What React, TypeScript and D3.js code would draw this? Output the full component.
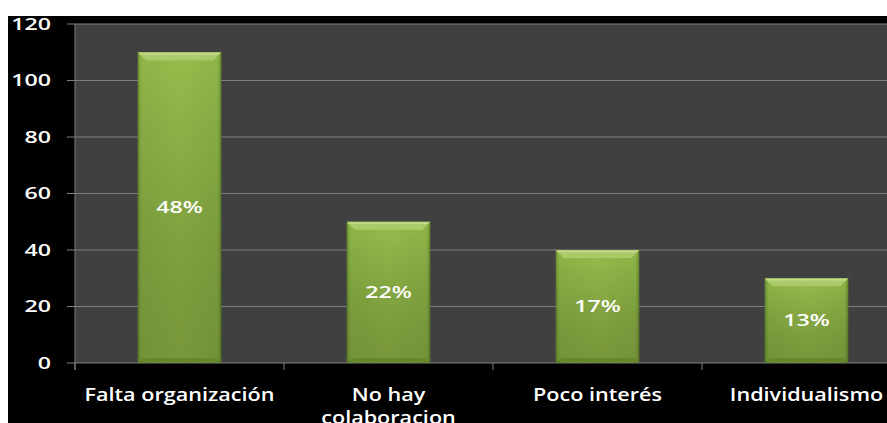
import React, { useRef, useEffect } from 'react';
import * as d3 from 'd3';

const categories = ['Falta organización', 'No hay colaboracion', 'Poco interés', 'Individualismo'];
const values = [110, 50, 40, 30];
const percentLabels = ['48%', '22%', '17%', '13%'];
const yTicks = [0, 20, 40, 60, 80, 100, 120];

function App() {
  const rootRef = useRef<SVGSVGElement>(null);
  const width = 887;
  const height = 423;
  const plot = { left: 75, top: 24, right: 911, bottom: 363 };
  const font = "'Open Sans', sans-serif";

  useEffect(() => {
    const root = d3.select(rootRef.current);
    root.selectAll('*').remove();

    const defs = root.append('defs');
    const grad = defs.append('linearGradient').attr('id', 'barGrad')
      .attr('x1', 0).attr('x2', 1).attr('y1', 0).attr('y2', 0);
    grad.append('stop').attr('offset', '0%').attr('stop-color', '#6a8c2f');
    grad.append('stop').attr('offset', '4%').attr('stop-color', '#8fb648');
    grad.append('stop').attr('offset', '50%').attr('stop-color', '#97bd4c');
    grad.append('stop').attr('offset', '96%').attr('stop-color', '#8fb648');
    grad.append('stop').attr('offset', '100%').attr('stop-color', '#66872d');
    const vgrad = defs.append('linearGradient').attr('id', 'barShade')
      .attr('x1', 0).attr('x2', 0).attr('y1', 0).attr('y2', 1);
    vgrad.append('stop').attr('offset', '0%').attr('stop-color', '#000').attr('stop-opacity', 0);
    vgrad.append('stop').attr('offset', '100%').attr('stop-color', '#2d4010').attr('stop-opacity', 0.3);

    const x = d3.scaleBand<string>()
      .domain(categories)
      .range([plot.left, plot.right])
      .paddingInner(0.6)
      .paddingOuter(0.3);

    const y = d3.scaleLinear()
      .domain([0, 120])
      .range([plot.bottom, plot.top]);

    // backgrounds
    root.append('rect').attr('width', width).attr('height', height).attr('fill', '#ffffff');
    root.append('rect').attr('x', 8).attr('y', 16).attr('width', width - 8).attr('height', height - 16).attr('fill', '#000000');
    root.append('rect').attr('x', plot.left).attr('y', plot.top)
      .attr('width', plot.right - plot.left).attr('height', plot.bottom - plot.top).attr('fill', '#404040');

    // gridlines
    root.append('g').selectAll('line').data(yTicks).join('line')
      .attr('x1', plot.left - 8).attr('x2', plot.right)
      .attr('y1', d => y(d)).attr('y2', d => y(d))
      .attr('stroke', '#7f7f7f').attr('stroke-width', 1);

    // axis lines
    root.append('line').attr('x1', plot.left).attr('x2', plot.left)
      .attr('y1', plot.top).attr('y2', plot.bottom + 7).attr('stroke', '#7f7f7f');
    const step = x.step();
    const bounds = d3.range(categories.length + 1).map(i => plot.left + i * step);
    root.append('g').selectAll('line').data(bounds).join('line')
      .attr('x1', d => d).attr('x2', d => d)
      .attr('y1', plot.bottom).attr('y2', plot.bottom + 7)
      .attr('stroke', '#7f7f7f');

    // y labels (stretched horizontally like the original)
    root.append('g').selectAll('text').data(yTicks).join('text')
      .attr('transform', d => `translate(51,${y(d)}) scale(1.45,1)`)
      .attr('dy', '0.36em')
      .attr('text-anchor', 'end')
      .attr('fill', '#ffffff')
      .attr('font-family', font)
      .attr('font-weight', 600)
      .attr('font-size', 16)
      .text(d => d);

    // bars
    const bars = root.append('g').selectAll('g').data(categories).join('g');
    const bw = x.bandwidth();
    bars.append('rect')
      .attr('x', d => x(d)!)
      .attr('y', (d, i) => y(values[i]))
      .attr('width', bw)
      .attr('height', (d, i) => plot.bottom - y(values[i]))
      .attr('fill', 'url(#barGrad)');
    bars.append('rect')
      .attr('x', d => x(d)!)
      .attr('y', (d, i) => y(values[i]))
      .attr('width', bw)
      .attr('height', (d, i) => plot.bottom - y(values[i]))
      .attr('fill', 'url(#barShade)');
    // top bevel
    bars.append('path')
      .attr('d', (d, i) => {
        const x0 = x(d)!, y0 = y(values[i]);
        return `M${x0},${y0}L${x0 + bw},${y0}L${x0 + bw - 8},${y0 + 8}L${x0 + 8},${y0 + 8}Z`;
      })
      .attr('fill', '#abcb6a');
    bars.append('line')
      .attr('x1', d => x(d)! + 2).attr('x2', d => x(d)! + bw - 2)
      .attr('y1', (d, i) => y(values[i]) + 1.5).attr('y2', (d, i) => y(values[i]) + 1.5)
      .attr('stroke', '#c4dc8c').attr('stroke-width', 1.5);
    // bottom bevel
    bars.append('path')
      .attr('d', (d) => {
        const x0 = x(d)!, y0 = plot.bottom;
        return `M${x0},${y0}L${x0 + bw},${y0}L${x0 + bw - 5},${y0 - 5}L${x0 + 5},${y0 - 5}Z`;
      })
      .attr('fill', '#5f7f28').attr('opacity', 0.6);

    bars.append('text')
      .attr('transform', (d, i) => `translate(${x(d)! + bw / 2},${(y(values[i]) + plot.bottom) / 2}) scale(1.45,1)`)
      .attr('dy', '0.36em')
      .attr('text-anchor', 'middle')
      .attr('fill', '#ffffff')
      .attr('font-family', font)
      .attr('font-weight', 600)
      .attr('font-size', 16)
      .text((d, i) => percentLabels[i]);

    // category labels
    const catText = root.append('g').selectAll('text').data(categories).join('text')
      .attr('transform', d => `translate(${x(d)! + bw / 2},395) scale(1.2,1)`)
      .attr('text-anchor', 'middle')
      .attr('fill', '#ffffff')
      .attr('font-family', font)
      .attr('font-weight', 600)
      .attr('font-size', 18);
    catText.each(function (d) {
      const t = d3.select(this);
      const lines = d === 'No hay colaboracion' ? ['No hay', 'colaboracion'] : [d];
      lines.forEach((l, j) => {
        t.append('tspan').attr('x', 0).attr('dy', j === 0 ? '0.36em' : '1.25em').text(l);
      });
    });
  });

  return (
    <svg ref={rootRef} width={width} height={height}
      style={{ position: 'absolute', left: 0, top: 0, display: 'block' }} />
  );
}

export default App;
